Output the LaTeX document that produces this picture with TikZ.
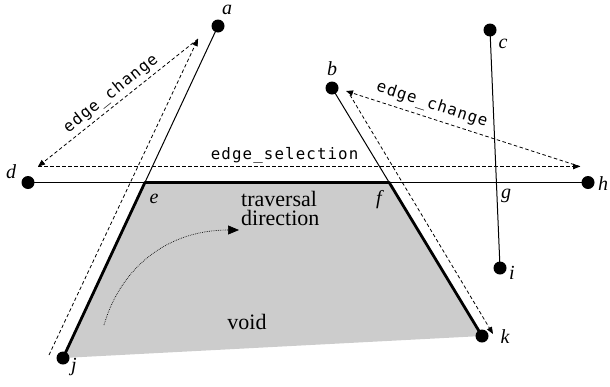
\documentclass[tikz,border=0pt]{standalone}
\usepackage{fontspec}
\setmainfont{Liberation Serif}
\newfontfamily\monof[LetterSpace=7]{DejaVu Sans Mono}
\usetikzlibrary{arrows.meta,calc}
\tikzset{
  dot/.style={circle,fill=black,inner sep=0pt,minimum size=13pt},
  thinline/.style={line width=1pt},
  thickline/.style={line width=2.8pt,line cap=round,line join=round},
  dashedarrow/.style={line width=0.8pt,dash pattern=on 3.5pt off 2.5pt,-{Triangle[length=7pt,width=5.5pt]}},
  ptlabel/.style={font=\fontsize{20pt}{20pt}\selectfont\itshape,inner sep=0pt,anchor=base},
  codelabel/.style={font=\fontsize{15.8pt}{16pt}\selectfont\monof,inner sep=2pt},
  textlabel/.style={font=\fontsize{22pt}{19pt}\selectfont,inner sep=0pt}
}
\begin{document}
\begin{tikzpicture}[x=1pt,y=-1pt]
\useasboundingbox (0,0) rectangle (610,386);
% points
\coordinate (pa) at (218,26);
\coordinate (pb) at (332,88);
\coordinate (pc) at (490,30);
\coordinate (pd) at (28,182.5);
\coordinate (ph) at (588,182.5);
\coordinate (pi) at (500,268);
\coordinate (pj) at (63,358);
\coordinate (pk) at (482,336);
\coordinate (pe) at (144.9,182.5);
\coordinate (pf) at (389.2,182.5);
\coordinate (pg) at (496.4,182.5);
% void region
\fill[black!20] (pe) -- (pf) -- (pk) -- (pj) -- cycle;
% thin lines
\draw[thinline] (pa) -- (pe);
\draw[thinline] (pd) -- (ph);
\draw[thinline] (pb) -- (pf);
\draw[thinline] (pc) -- (pi);
% thick boundary
\draw[thickline] (pj) -- (pe) -- (pf) -- (pk);
% traversal arrows
\coordinate (tj) at (49,355);
\coordinate (ta) at (198,39);
\coordinate (td) at (38,166.5);
\coordinate (th) at (580,166.5);
\coordinate (tb) at (346,91);
\coordinate (tb2) at (350,95);
\coordinate (tk) at (493,334);
\draw[dashedarrow] (tj) -- (ta);
\draw[dashedarrow] (ta) -- node[codelabel,sloped,above=1pt] {edge\_change} (td);
\draw[dashedarrow] (td) -- node[codelabel,above=1pt,pos=0.455] {edge\_selection} (th);
\draw[dashedarrow] (th) -- node[codelabel,sloped,above=3pt,pos=0.65] {edge\_change} (tb);
\draw[dashedarrow] (tb2) -- (tk);
% dots
\foreach \p in {a,b,c,d,h,i,j,k} \node[dot] (n\p) at (p\p) {};
% point labels
\node[ptlabel] (la) at (227,14) {a};
\node[ptlabel] (lb) at (332,75) {b};
\node[ptlabel] (lc) at (503,48) {c};
\node[ptlabel] (ld) at (11,178.5) {d};
\node[ptlabel] (le) at (154,203) {e};
\node[ptlabel] (lf) at (379,204) {f};
\node[ptlabel] (lg) at (506,198) {g};
\node[ptlabel] (lh) at (603,190) {h};
\node[ptlabel] (li) at (512,279) {i};
\node[ptlabel] (lj) at (74,371) {j};
\node[ptlabel] (lk) at (505,343) {k};
% traversal direction
\node[textlabel,anchor=base west,align=left] (tdir) at (241,225) {traversal\\direction};
\coordinate (cs) at (104,325);
\coordinate (ce) at (239,230);
\draw[line width=0.7pt,dash pattern=on 0.7pt off 1.1pt,-{Triangle[length=11pt,width=9pt]}] (cs) .. controls (120,270) and (165,230) .. (ce);
\node[textlabel,anchor=base] (void) at (247,329) {void};
\end{tikzpicture}
\end{document}
